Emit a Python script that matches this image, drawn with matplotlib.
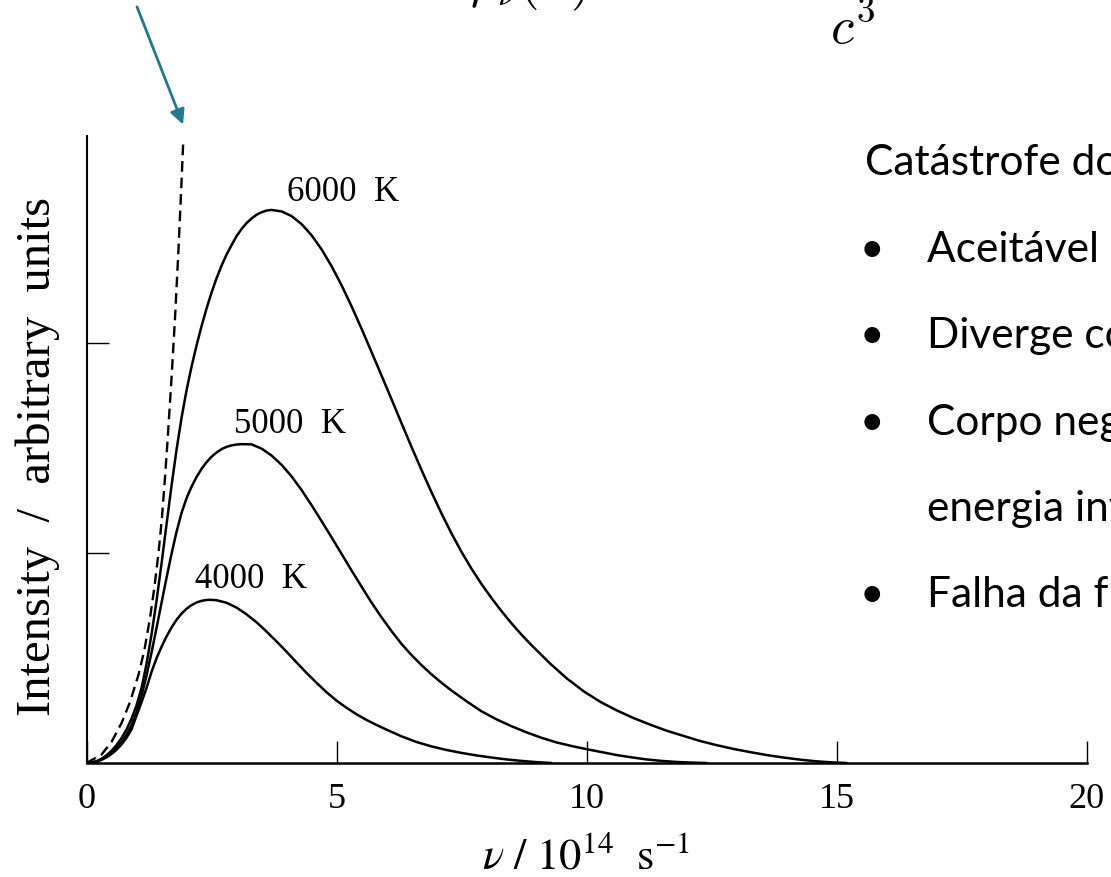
import matplotlib
matplotlib.use("Agg")
import matplotlib.pyplot as plt

# Planck curves (nu in 1e14 s^-1, intensity in tick units)
nu_6000 = [0, 0.1, 0.2, 0.3, 0.4, 0.5, 0.6, 0.7, 0.8, 0.9,
           1.0, 1.1, 1.2, 1.3, 1.4, 1.5, 1.6, 1.7, 1.8, 1.9,
           2.0, 2.1, 2.2, 2.3, 2.4, 2.5, 2.6, 2.7, 2.8, 2.9,
           3.0, 3.1, 3.2, 3.3, 3.4, 3.5, 3.6, 3.7,
           3.9, 4.1, 4.3, 4.5, 4.7, 4.9, 5.1, 5.3, 5.5, 5.7, 5.9, 6.1, 6.3, 6.5,
           6.7, 6.9, 7.1, 7.3, 7.5, 7.7, 7.9, 8.1, 8.3, 8.5, 8.7, 8.9, 9.1,
           9.27, 9.6, 9.94, 10.27, 10.6, 10.94, 11.27, 11.6, 11.94, 12.27, 12.6,
           12.94, 13.27, 13.6, 13.94, 14.27, 14.6, 14.9, 15.2]
int_6000 = [0, 0.002, 0.0085, 0.02, 0.0365, 0.058, 0.085, 0.1185, 0.1595, 0.21,
            0.274, 0.356, 0.471, 0.611, 0.771, 0.9485, 1.135, 1.319, 1.49, 1.642,
            1.773, 1.886, 1.987, 2.079, 2.163, 2.239, 2.307, 2.367, 2.42, 2.465,
            2.508, 2.542, 2.57, 2.592, 2.61, 2.622, 2.63, 2.633,
            2.626, 2.604, 2.566, 2.513, 2.446, 2.366, 2.275, 2.175, 2.068, 1.957, 1.845, 1.732, 1.618, 1.505,
            1.395, 1.289, 1.188, 1.093, 1.005, 0.925, 0.852, 0.785, 0.723, 0.665, 0.611, 0.561, 0.514,
            0.474, 0.404, 0.342, 0.292, 0.251, 0.214, 0.183, 0.154, 0.129, 0.105, 0.085,
            0.067, 0.052, 0.038, 0.026, 0.016, 0.008, 0.003, 0]

nu_5000 = [0, 0.1, 0.2, 0.3, 0.4, 0.5, 0.6, 0.7, 0.8, 0.9,
           1.0, 1.1, 1.2, 1.3, 1.4, 1.5, 1.6, 1.7, 1.8, 1.9,
           2.0, 2.1, 2.2, 2.3, 2.4, 2.5, 2.6, 2.7, 2.8, 2.9, 3.0, 3.1,
           3.3, 3.5, 3.7, 3.9, 4.1, 4.3, 4.5, 4.7, 4.9, 5.1, 5.3, 5.5, 5.7, 5.9,
           6.1, 6.3, 6.5, 6.7, 6.9, 7.1, 7.3,
           7.6, 7.9, 8.2, 8.5, 8.8, 9.1, 9.4, 9.7, 10.0, 10.3, 10.6, 10.9, 11.2,
           11.5, 11.8, 12.1, 12.4]
int_5000 = [0, 0.0015, 0.007, 0.017, 0.031, 0.049, 0.072, 0.10, 0.135, 0.18,
            0.24, 0.319, 0.4155, 0.525, 0.642, 0.762, 0.881, 0.995, 1.10, 1.19,
            1.26, 1.315, 1.361, 1.40, 1.432, 1.458, 1.478, 1.494, 1.505, 1.512, 1.516, 1.518,
            1.517, 1.497, 1.464, 1.42, 1.365, 1.30, 1.228, 1.152, 1.075, 0.996, 0.917, 0.84, 0.764, 0.694,
            0.628, 0.567, 0.514, 0.466, 0.422, 0.382, 0.345,
            0.294, 0.246, 0.208, 0.175, 0.146, 0.12, 0.098, 0.081, 0.066, 0.052, 0.038, 0.027, 0.017,
            0.01, 0.005, 0.002, 0]

nu_4000 = [0, 0.1, 0.2, 0.3, 0.4, 0.5, 0.6, 0.7, 0.8, 0.9,
           1.0, 1.1, 1.2, 1.3, 1.4, 1.5, 1.6, 1.7, 1.8, 1.9,
           2.0, 2.1, 2.2, 2.3, 2.4, 2.47,
           2.6, 2.8, 3.0, 3.2, 3.4, 3.6, 3.8, 4.0, 4.2, 4.4, 4.6, 4.8, 5.0, 5.2,
           5.4, 5.6, 5.8, 6.0,
           6.3, 6.6, 6.9, 7.2, 7.5, 7.8, 8.1, 8.4, 8.7, 9.0, 9.3]
int_4000 = [0, 0.0015, 0.0065, 0.015, 0.027, 0.043, 0.063, 0.088, 0.12, 0.16,
            0.225, 0.289, 0.357, 0.433, 0.4985, 0.553, 0.602, 0.645, 0.6815, 0.711,
            0.734, 0.7515, 0.764, 0.772, 0.776, 0.777,
            0.775, 0.763, 0.74, 0.708, 0.67, 0.626, 0.579, 0.53, 0.479, 0.429, 0.382, 0.337, 0.297, 0.263,
            0.232, 0.205, 0.181, 0.159,
            0.127, 0.10, 0.079, 0.062, 0.048, 0.036, 0.026, 0.017, 0.01, 0.004, 0]

# classical (Rayleigh-Jeans) curve, dashed
nu_rj = [0, 0.30, 0.50, 0.70, 0.87, 1.04, 1.16, 1.27, 1.36, 1.44, 1.51, 1.57, 1.62, 1.70,
         1.77, 1.84, 1.90, 1.935]
int_rj = [0, 0.04, 0.10, 0.19, 0.29, 0.42, 0.54, 0.69, 0.84, 1.00, 1.17, 1.36, 1.53, 1.83,
          2.117, 2.446, 2.764, 2.96]

x_ticks = [0, 5, 10, 15, 20]
y_ticks = [1, 2]
temps = ["6000  K", "5000  K", "4000  K"]
label_pos = [(4.01, 2.678), (2.94, 1.575), (2.17, 0.837)]

bullets = ["Aceitável para baixas frequências",
           "Diverge com o aumento da frequência",
           "Corpo negro emitiria",
           "energia infinita",
           "Falha da física clássica"]

serif = "Liberation Serif"
W, H = 1111, 878

fig = plt.figure(figsize=(W / 100, H / 100), dpi=100)
ax = fig.add_axes([86.5 / W, (H - 764) / H, 1000 / W, 627 / H])

for nu, val in [(nu_6000, int_6000), (nu_5000, int_5000), (nu_4000, int_4000)]:
    ax.plot(nu, val, color="black", lw=1.8, solid_capstyle="round", solid_joinstyle="round")
ax.plot(nu_rj, int_rj, color="black", lw=1.7, ls=(0, (4.5, 2.5)), clip_on=False)

for txt, (x, y) in zip(temps, label_pos):
    ax.text(x, y, txt, fontsize=25, family=serif, va="baseline", ha="left")

ax.set_xlim(0, 20)
ax.set_ylim(0, 2.985)
ax.spines["top"].set_visible(False)
ax.spines["right"].set_visible(False)
ax.spines["left"].set_linewidth(1.5)
ax.spines["bottom"].set_linewidth(1.8)

ax.set_xticks(x_ticks)
ax.set_xticklabels([str(t) for t in x_ticks], family=serif, fontsize=26)
ax.set_yticks(y_ticks)
ax.set_yticklabels([])
ax.tick_params(axis="both", direction="in", length=16, width=1.0)
ax.tick_params(axis="x", pad=14)

ax.set_xlabel(r"$\nu\ /\ 10^{14}\ \ \mathrm{s}^{-1}$", fontsize=32, labelpad=13,
              math_fontfamily="stix")
ax.set_ylabel("Intensity  /  arbitrary  units", family=serif, fontsize=35)
ax.yaxis.set_label_coords(-0.0485, 0.49)
ax.yaxis.label.set_verticalalignment("center")

# arrow pointing to the diverging classical curve
ax.annotate("", xy=(1.93, 3.04), xytext=(1.01, 3.6), xycoords="data",
            arrowprops=dict(arrowstyle="-|>", color="#21798F", lw=2,
                            mutation_scale=22, shrinkA=0, shrinkB=0),
            annotation_clip=False)

# formula at the top of the slide (mostly cut off)
fig.text(470 / W, 1 + 3 / H, r"$\rho_\nu(T)$", fontsize=38, va="baseline",
         math_fontfamily="cm")
fig.text(830 / W, 1 - 43 / H, r"$c^3$", fontsize=38, va="baseline",
         math_fontfamily="cm")

# slide text on the right (cut by the image edge)
fig.text(865 / W, 1 - 175 / H, "Catástrofe do ultravioleta", family="Lato",
         fontsize=30.5, va="baseline")
for i, line in enumerate(bullets):
    yb = 1 - (262 + 86.3 * i) / H
    if line != "energia infinita":
        fig.text(872 / W, yb, "•", family="Lato", fontsize=30.5, va="baseline", ha="center")
    fig.text(927 / W, yb, line, family="Lato", fontsize=30.5, va="baseline")

fig.savefig("out.png", dpi=100)
